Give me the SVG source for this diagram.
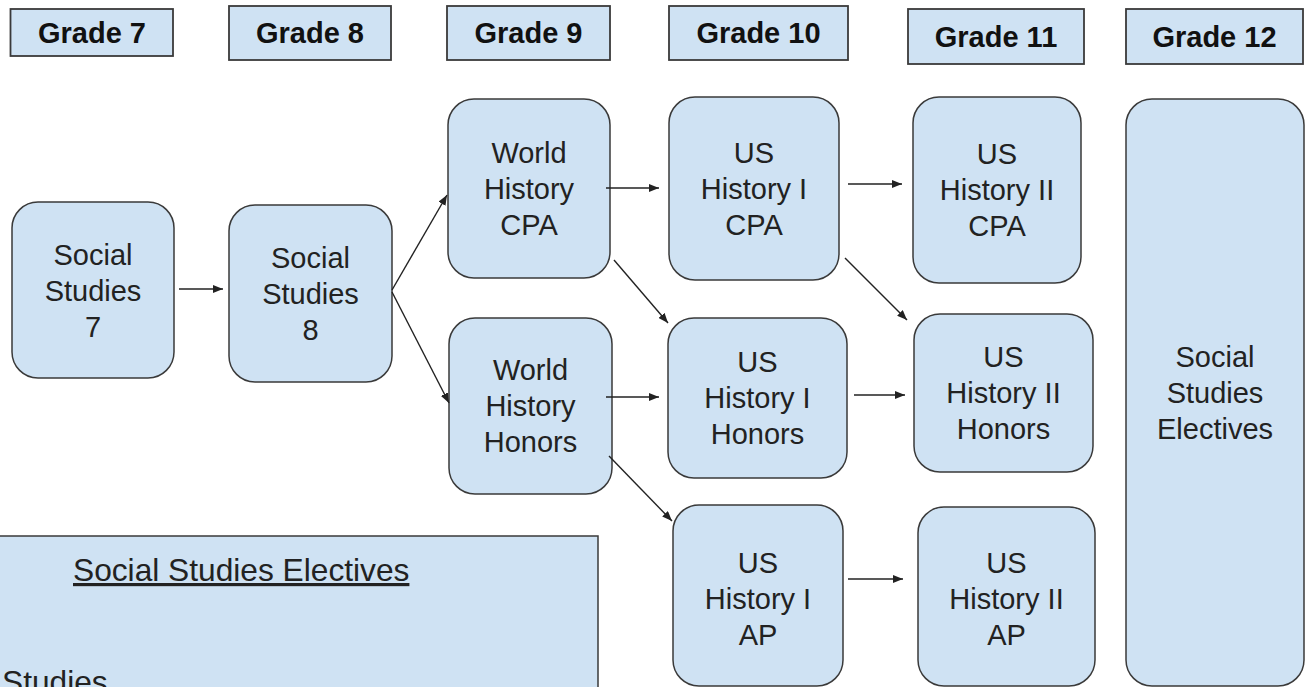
<svg xmlns="http://www.w3.org/2000/svg" width="1306" height="687" viewBox="0 0 1306 687">
  <style>
    .hdr { fill: #cfe2f3; stroke: #3a3a3a; stroke-width: 1.8; }
    .node { fill: #cfe2f3; stroke: #3a3a3a; stroke-width: 1.5; }
    .ht { font-family: "Liberation Sans", Arial, sans-serif; font-weight: bold; font-size: 29px; fill: #111; text-anchor: middle; }
    .nt { font-family: "Liberation Sans", Arial, sans-serif; font-size: 29px; fill: #222; text-anchor: middle; }
    .bt { font-family: "Liberation Sans", Arial, sans-serif; font-size: 31.7px; fill: #222; }
    .conn line { stroke: #222; stroke-width: 1.4; fill: none; marker-end: url(#ah); }
  </style>
  <defs>
    <marker id="ah" markerUnits="userSpaceOnUse" markerWidth="10" markerHeight="8" refX="10" refY="4" orient="auto">
      <path d="M0,0 L10,4 L0,8 z" fill="#222"/>
    </marker>
  </defs>
  <rect width="1306" height="687" fill="#ffffff"/>

  <g id="grade7"><rect class="hdr" x="10.5" y="9" width="162.5" height="47"/><text class="ht" x="92" y="43">Grade 7</text></g>
  <g id="grade8"><rect class="hdr" x="229" y="6" width="162" height="54"/><text class="ht" x="310" y="43">Grade 8</text></g>
  <g id="grade9"><rect class="hdr" x="447" y="6" width="163" height="54"/><text class="ht" x="528.5" y="43">Grade 9</text></g>
  <g id="grade10"><rect class="hdr" x="669" y="6" width="179" height="54"/><text class="ht" x="758.5" y="43">Grade 10</text></g>
  <g id="grade11"><rect class="hdr" x="908" y="9" width="176" height="55"/><text class="ht" x="996" y="47">Grade 11</text></g>
  <g id="grade12"><rect class="hdr" x="1126" y="9" width="177" height="55"/><text class="ht" x="1214.5" y="47">Grade 12</text></g>

  <g id="ss7"><rect class="node" x="12" y="202" width="162" height="176" rx="26"/>
    <text class="nt" x="93" y="265">Social</text><text class="nt" x="93" y="301">Studies</text><text class="nt" x="93" y="337">7</text></g>
  <g id="ss8"><rect class="node" x="229" y="205" width="163" height="177" rx="26"/>
    <text class="nt" x="310.5" y="268">Social</text><text class="nt" x="310.5" y="304">Studies</text><text class="nt" x="310.5" y="340">8</text></g>
  <g id="wh-cpa"><rect class="node" x="448" y="99" width="162" height="179" rx="26"/>
    <text class="nt" x="529" y="163">World</text><text class="nt" x="529" y="199">History</text><text class="nt" x="529" y="235">CPA</text></g>
  <g id="wh-honors"><rect class="node" x="449" y="318" width="163" height="176" rx="26"/>
    <text class="nt" x="530.5" y="380">World</text><text class="nt" x="530.5" y="416">History</text><text class="nt" x="530.5" y="452">Honors</text></g>
  <g id="us1-cpa"><rect class="node" x="669" y="97" width="170" height="183" rx="26"/>
    <text class="nt" x="754" y="163">US</text><text class="nt" x="754" y="199">History I</text><text class="nt" x="754" y="235">CPA</text></g>
  <g id="us1-honors"><rect class="node" x="668" y="318" width="179" height="160" rx="26"/>
    <text class="nt" x="757.5" y="372">US</text><text class="nt" x="757.5" y="408">History I</text><text class="nt" x="757.5" y="444">Honors</text></g>
  <g id="us1-ap"><rect class="node" x="673" y="505" width="170" height="181" rx="26"/>
    <text class="nt" x="758" y="573">US</text><text class="nt" x="758" y="609">History I</text><text class="nt" x="758" y="645">AP</text></g>
  <g id="us2-cpa"><rect class="node" x="913" y="97" width="168" height="186" rx="26"/>
    <text class="nt" x="997" y="164">US</text><text class="nt" x="997" y="200">History II</text><text class="nt" x="997" y="236">CPA</text></g>
  <g id="us2-honors"><rect class="node" x="914" y="314" width="179" height="158" rx="26"/>
    <text class="nt" x="1003.5" y="367">US</text><text class="nt" x="1003.5" y="403">History II</text><text class="nt" x="1003.5" y="439">Honors</text></g>
  <g id="us2-ap"><rect class="node" x="918" y="507" width="177" height="179" rx="26"/>
    <text class="nt" x="1006.5" y="573">US</text><text class="nt" x="1006.5" y="609">History II</text><text class="nt" x="1006.5" y="645">AP</text></g>
  <g id="ss-electives"><rect class="node" x="1126" y="99" width="178" height="587" rx="26"/>
    <text class="nt" x="1215" y="367">Social</text><text class="nt" x="1215" y="403">Studies</text><text class="nt" x="1215" y="439">Electives</text></g>

  <g id="electives-box"><rect class="node" x="-5" y="536" width="603" height="200"/>
    <text class="bt" x="73" y="581" text-decoration="underline">Social Studies Electives</text>
    <text class="bt" x="2" y="693">Studies</text></g>

  <g id="connectors" class="conn">
    <line x1="179" y1="289" x2="223" y2="289"/>
    <line x1="392" y1="290" x2="447" y2="195"/>
    <line x1="392" y1="292" x2="449" y2="403"/>
    <line x1="606" y1="188" x2="659" y2="188"/>
    <line x1="614" y1="260" x2="668" y2="323"/>
    <line x1="606" y1="397" x2="659" y2="397"/>
    <line x1="609" y1="456" x2="672" y2="521"/>
    <line x1="848" y1="184" x2="902" y2="184"/>
    <line x1="845" y1="258" x2="907" y2="320"/>
    <line x1="854" y1="395" x2="905" y2="395"/>
    <line x1="848" y1="579" x2="903" y2="579"/>
  </g>
</svg>
